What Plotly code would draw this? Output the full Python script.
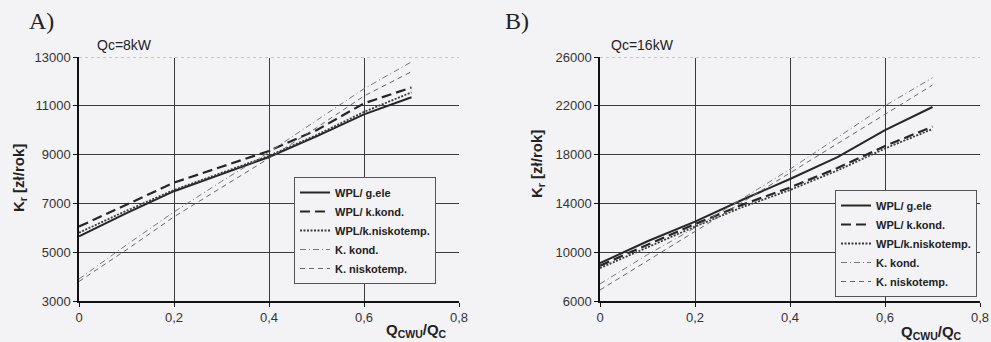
import plotly.graph_objects as go

x_vals = [0, 0.1, 0.2, 0.3, 0.4, 0.5, 0.6, 0.7]

# Panel A (Qc = 8 kW)
a_wpl_gele = [5650, 6600, 7500, 8200, 8900, 9750, 10650, 11350]
a_wpl_kkond = [6050, 6950, 7850, 8500, 9150, 10000, 11100, 11750]
a_wpl_knisko = [5800, 6700, 7550, 8250, 8950, 9800, 10750, 11550]
a_k_kond = [3900, 5300, 6650, 7900, 9100, 10400, 11700, 12800]
a_k_nisko = [3800, 5100, 6450, 7650, 8850, 10100, 11400, 12400]

# Panel B (Qc = 16 kW)
b_wpl_gele = [9100, 10900, 12500, 14300, 16000, 17800, 20000, 21900]
b_wpl_kkond = [8900, 10600, 12300, 13900, 15300, 16900, 18700, 20300]
b_wpl_knisko = [8700, 10400, 12100, 13700, 15100, 16700, 18500, 20100]
b_k_kond = [7400, 9800, 12000, 14400, 16800, 19400, 22000, 24300]
b_k_nisko = [6900, 9300, 11700, 14100, 16500, 18900, 21300, 23700]

series_names = ["WPL/ g.ele", "WPL/ k.kond.", "WPL/k.niskotemp.", "K. kond.", "K. niskotemp."]

x_ticks = [0, 0.2, 0.4, 0.6, 0.8]
x_ticktext = ["0", "0,2", "0,4", "0,6", "0,8"]
a_yticks = [3000, 5000, 7000, 9000, 11000, 13000]
b_yticks = [6000, 10000, 14000, 18000, 22000, 26000]

styles = [
    dict(color="#262626", width=2, dash="solid"),
    dict(color="#262626", width=2.2, dash="10px,5px"),
    dict(color="#3a3a3a", width=1.8, dash="2px,1.5px"),
    dict(color="#777777", width=1, dash="6px,3px,1px,3px"),
    dict(color="#666666", width=1, dash="5px,4px"),
]

BG = "#f3f3f5"
FONT = "Arial, Liberation Sans"
fig = go.Figure()

panels = [
    ("x", "y", "legend", [a_wpl_gele, a_wpl_kkond, a_wpl_knisko, a_k_kond, a_k_nisko]),
    ("x2", "y2", "legend2", [b_wpl_gele, b_wpl_kkond, b_wpl_knisko, b_k_kond, b_k_nisko]),
]
for xa, ya, lg, data in panels:
    for name, vals, st in zip(series_names, data, styles):
        fig.add_trace(go.Scatter(
            x=x_vals, y=vals, mode="lines", name=name,
            line=st, xaxis=xa, yaxis=ya, legend=lg,
        ))

ydom = [1 - 301 / 342, 1 - 57 / 342]
axis_common = dict(
    showline=True, linecolor="#111", linewidth=1.5,
    ticks="outside", ticklen=4, tickcolor="#111",
    showgrid=True, gridcolor="#3a3a3a", gridwidth=1,
    zeroline=False, tickfont=dict(family=FONT, size=13, color="#333"),
)
legend_common = dict(
    xanchor="left", yanchor="top", bgcolor=BG, bordercolor="#555", borderwidth=1,
    font=dict(family=FONT, size=11, color="#222", weight="bold"),
    tracegroupgap=0, itemwidth=30,
)
fig.update_layout(
    width=991, height=342,
    margin=dict(l=0, r=0, t=0, b=0, autoexpand=False),
    paper_bgcolor=BG, plot_bgcolor=BG,
    xaxis=dict(domain=[79 / 991, 459 / 991], range=[0, 0.8], tickvals=x_ticks, ticktext=x_ticktext,
               anchor="y", **axis_common),
    yaxis=dict(domain=ydom, range=[3000, 13000], tickvals=a_yticks, ticktext=[str(v) for v in a_yticks],
               anchor="x", **axis_common),
    xaxis2=dict(domain=[600 / 991, 980 / 991], range=[0, 0.8], tickvals=x_ticks, ticktext=x_ticktext,
                anchor="y2", **axis_common),
    yaxis2=dict(domain=ydom, range=[6000, 26000], tickvals=b_yticks, ticktext=[str(v) for v in b_yticks],
                anchor="x2", **axis_common),
    legend=dict(x=294 / 991, y=1 - 177 / 342, **legend_common),
    legend2=dict(x=835 / 991, y=1 - 190 / 342, **legend_common),
    showlegend=True,
)

# dotted top border
for xr, yr, ytop in [("x", "y", 13000), ("x2", "y2", 26000)]:
    fig.add_shape(type="line", xref=xr, yref=yr, x0=0, x1=0.8, y0=ytop, y1=ytop,
                  line=dict(color=BG, width=2), layer="above")
    fig.add_shape(type="line", xref=xr, yref=yr, x0=0, x1=0.8, y0=ytop, y1=ytop,
                  line=dict(color="#999", width=1, dash="dot"), layer="above")

ann_font = dict(family=FONT, size=14, color="#222")
title_font = dict(family=FONT, size=15, color="#222")
serif = dict(family="Liberation Serif, Times New Roman", size=24, color="#222")
annots = [
    dict(text="A)", x=41 / 991, y=1 - 21 / 342, font=serif),
    dict(text="B)", x=517 / 991, y=1 - 21 / 342, font=serif),
    dict(text="Qc=8kW", x=124 / 991, y=1 - 45 / 342, font=ann_font),
    dict(text="Qc=16kW", x=642 / 991, y=1 - 45 / 342, font=ann_font),
    dict(text="<b>K<sub>r</sub> [zł/rok]</b>", x=19 / 991, y=1 - 178 / 342, textangle=-90, font=title_font),
    dict(text="<b>K<sub>r</sub> [zł/rok]</b>", x=537 / 991, y=1 - 164 / 342, textangle=-90, font=title_font),
    dict(text="<b>Q<sub>CWU</sub>/Q<sub>C</sub></b>", x=416 / 991, y=1 - 330 / 342, font=title_font),
    dict(text="<b>Q<sub>CWU</sub>/Q<sub>C</sub></b>", x=931 / 991, y=1 - 332 / 342, font=title_font),
]
for a in annots:
    fig.add_annotation(xref="paper", yref="paper", showarrow=False, xanchor="center", yanchor="middle", **a)

fig.write_html("out.html")
